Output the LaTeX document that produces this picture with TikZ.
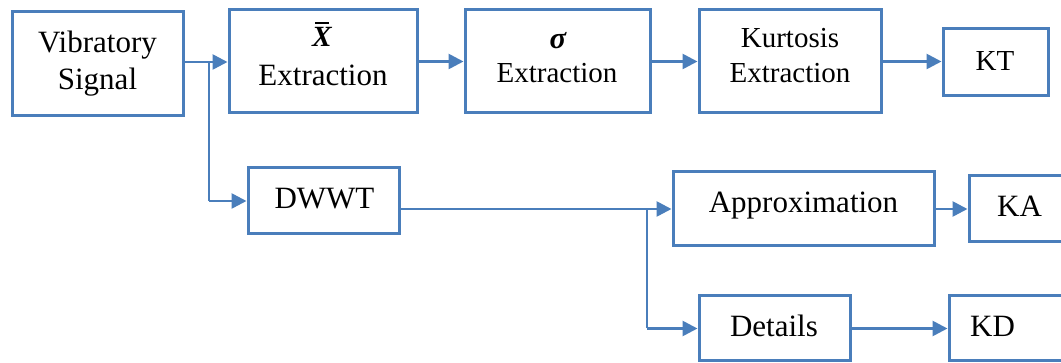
\documentclass[tikz,border=0pt]{standalone}
\usepackage{fontspec}
\setmainfont{Liberation Serif}
\usetikzlibrary{arrows.meta}
\definecolor{flowblue}{HTML}{4A7EBB}
\tikzset{
  box/.style={draw=flowblue, line width=2.25pt, inner sep=0pt, rectangle},
  lbl/.style={anchor=base, inner sep=0pt, text=black, font=\fontsize{23.25}{28}\selectfont},
  lblsmall/.style={anchor=base, inner sep=0pt, text=black, font=\fontsize{21.75}{26}\selectfont},
  conn/.style={draw=flowblue, line width=2pt, -{Triangle[length=11.25pt, width=11.25pt]}},
  wire/.style={draw=flowblue, line width=2pt}
}
\begin{document}
\begin{tikzpicture}[x=0.75pt, y=-0.75pt]
\useasboundingbox (0,0) rectangle (1061,363);
\clip (0,0) rectangle (1061,363);

% processing blocks
\node[box, minimum width=171pt*0.75, minimum height=104pt*0.75] (vib)  at (97.5,64)   {};
\node[box, minimum width=188pt*0.75, minimum height=103pt*0.75] (xbar) at (323,61.5)  {};
\node[box, minimum width=185pt*0.75, minimum height=103pt*0.75] (sig)  at (557.5,61.5) {};
\node[box, minimum width=182pt*0.75, minimum height=103pt*0.75] (kur)  at (790,61.5)  {};
\node[box, minimum width=105pt*0.75, minimum height=67pt*0.75]  (kt)   at (995.5,62.5) {};
\node[box, minimum width=151pt*0.75, minimum height=66pt*0.75]  (dwwt) at (323.5,201) {};
\node[box, minimum width=261pt*0.75, minimum height=74pt*0.75]  (app)  at (803.5,209) {};
\node[box, minimum width=121pt*0.75, minimum height=66pt*0.75]  (ka)   at (1029.5,209) {};
\node[box, minimum width=151pt*0.75, minimum height=65pt*0.75]  (det)  at (774.5,328.5) {};
\node[box, minimum width=141pt*0.75, minimum height=65pt*0.75]  (kd)   at (1019.5,328.5) {};

% block texts
\node[lbl] (vib-a) at (97.5,53) {Vibratory};
\node[lbl] (vib-b) at (97.5,90) {Signal};
\node[anchor=base, inner sep=0pt, font=\fontsize{22}{24}\selectfont\bfseries\itshape] (xbar-sym) at (322,47) {X};
\draw[line width=1.6pt, black] (315,23) -- (329,23);
\node[lbl] (xbar-b) at (323,86) {Extraction};
\node[anchor=base, inner sep=0pt, font=\fontsize{23}{26}\selectfont\bfseries\itshape] (sig-sym) at (558,49) {σ};
\node[lblsmall] (sig-b) at (557,83) {Extraction};
\node[lblsmall] (kur-a) at (790,47.5) {Kurtosis};
\node[lblsmall] (kur-b) at (790,83) {Extraction};
\node[lblsmall] (kt-t) at (995,71) {KT};
\node[lbl] (dwwt-t) at (324.5,209) {DWWT};
\node[lbl] (app-t) at (803.5,213) {Approximation};
\node[lbl] (ka-t) at (1019.5,216.5) {KA};
\node[lbl] (det-t) at (774,336.5) {Details};
\node[lbl] (kd-t) at (992.5,336.5) {KD};

% branch points
\coordinate (split)  at (209,62);
\coordinate (split2) at (647,209);

% connectors
\draw[conn] (vib.east |- split) -- (xbar.west |- split);
\draw[wire] (split) -- (split |- dwwt.west);
\draw[conn] (split |- dwwt.west) -- (dwwt.west);
\draw[conn] (xbar.east) -- (sig.west);
\draw[conn] (sig.east) -- (kur.west);
\draw[conn] (kur.east) -- (kur.east -| kt.west);
\draw[conn] (dwwt.east |- app.west) -- (app.west);
\draw[wire] (split2) -- (split2 |- det.west);
\draw[conn] (split2 |- det.west) -- (det.west);
\draw[conn] (app.east) -- (app.east -| ka.west);
\draw[conn] (det.east) -- (kd.west);
\end{tikzpicture}
\end{document}
